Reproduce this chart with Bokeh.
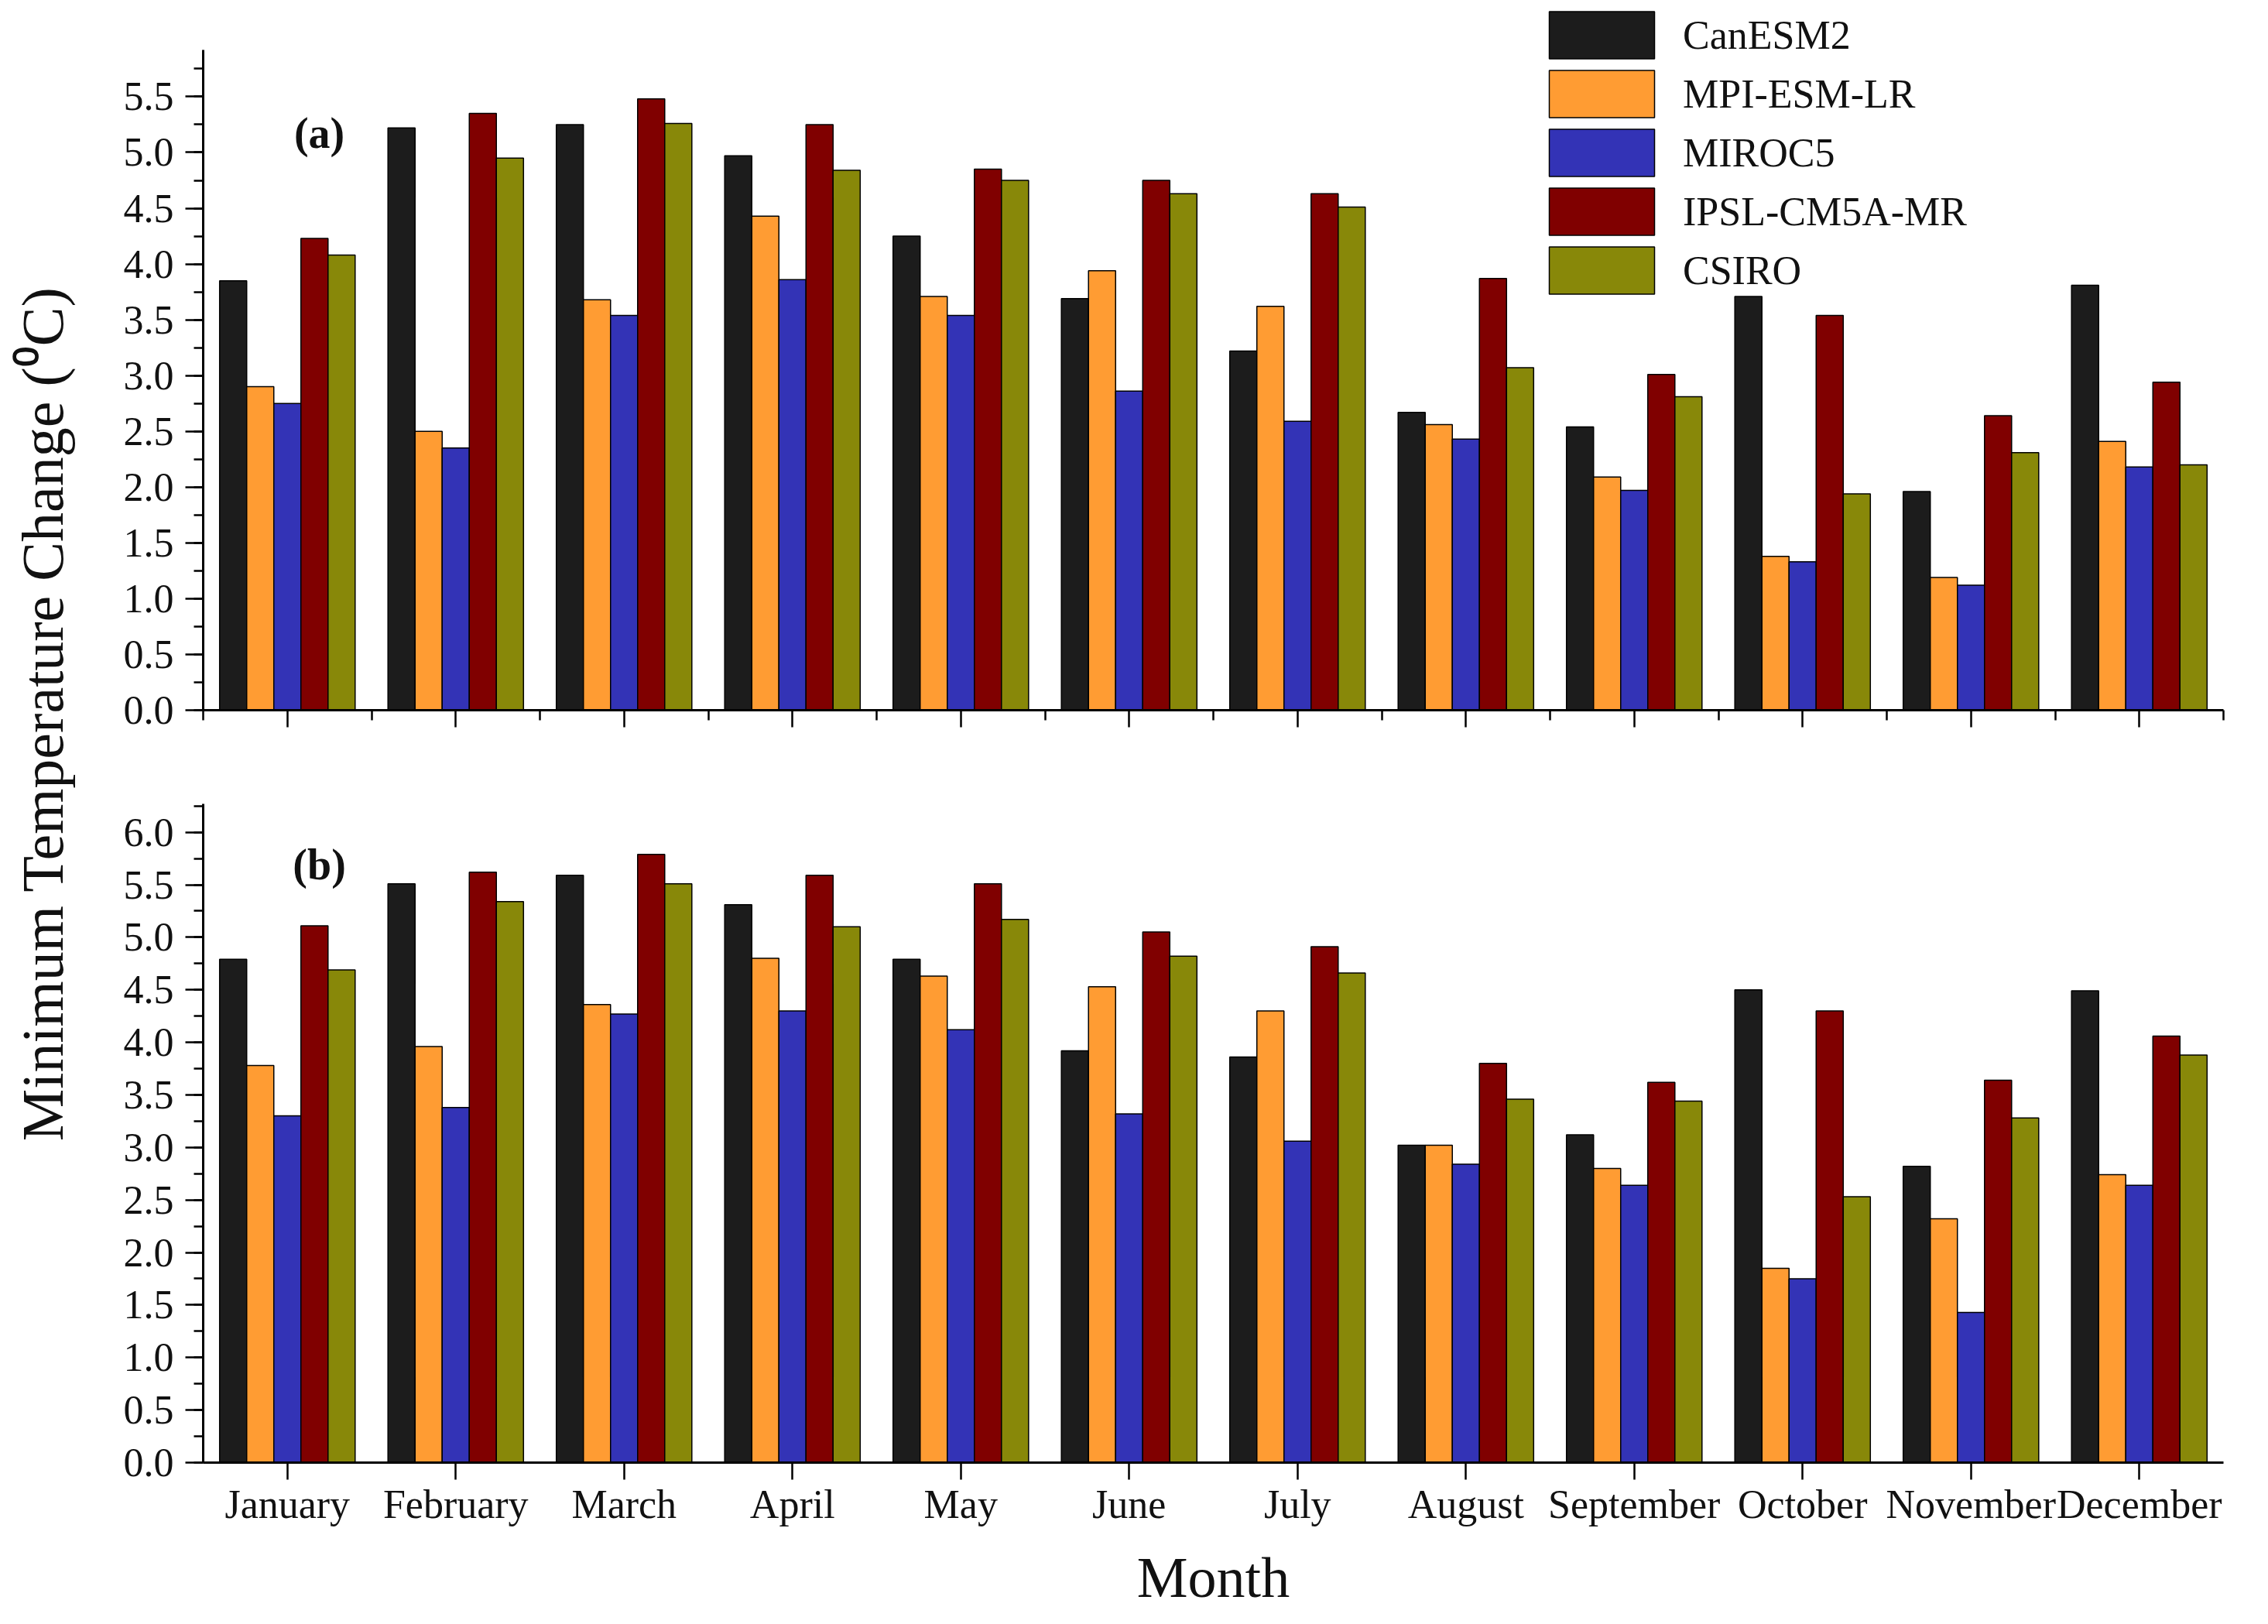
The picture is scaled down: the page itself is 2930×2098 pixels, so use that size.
import numpy as np
from bokeh.plotting import figure
from bokeh.models import (ColumnDataSource, Range1d, FixedTicker, SingleIntervalTicker,
                          PrintfTickFormatter, Legend, LegendItem, Label)
from bokeh.transform import dodge
from bokeh.layouts import row, column
from bokeh.embed import file_html
from bokeh.resources import INLINE

months = ["January", "February", "March", "April", "May", "June", "July",
          "August", "September", "October", "November", "December"]
models = ["CanESM2", "MPI-ESM-LR", "MIROC5", "IPSL-CM5A-MR", "CSIRO"]
colors = ["#1c1c1c", "#ff9c33", "#3333b6", "#800000", "#888809"]

# Panel (a)
a_canesm2 = [3.85, 5.22, 5.25, 4.97, 4.25, 3.69, 3.22, 2.67, 2.54, 3.71, 1.96, 3.81]
a_mpi     = [2.90, 2.50, 3.68, 4.43, 3.71, 3.94, 3.62, 2.56, 2.09, 1.38, 1.19, 2.41]
a_miroc5  = [2.75, 2.35, 3.54, 3.86, 3.54, 2.86, 2.59, 2.43, 1.97, 1.33, 1.12, 2.18]
a_ipsl    = [4.23, 5.35, 5.48, 5.25, 4.85, 4.75, 4.63, 3.87, 3.01, 3.54, 2.64, 2.94]
a_csiro   = [4.08, 4.95, 5.26, 4.84, 4.75, 4.63, 4.51, 3.07, 2.81, 1.94, 2.31, 2.20]

# Panel (b)
b_canesm2 = [4.79, 5.51, 5.59, 5.31, 4.79, 3.92, 3.86, 3.02, 3.12, 4.50, 2.82, 4.49]
b_mpi     = [3.78, 3.96, 4.36, 4.80, 4.63, 4.53, 4.30, 3.02, 2.80, 1.85, 2.32, 2.74]
b_miroc5  = [3.30, 3.38, 4.27, 4.30, 4.12, 3.32, 3.06, 2.84, 2.64, 1.75, 1.43, 2.64]
b_ipsl    = [5.11, 5.62, 5.79, 5.59, 5.51, 5.05, 4.91, 3.80, 3.62, 4.30, 3.64, 4.06]
b_csiro   = [4.69, 5.34, 5.51, 5.10, 5.17, 4.82, 4.66, 3.46, 3.44, 2.53, 3.28, 3.88]

FONT = "Liberation Serif"
x_idx = list(range(1, len(months) + 1))
offsets = [-0.322, -0.161, 0.0, 0.161, 0.322]
bar_w = 0.161


def make_panel(series, ymax, axis_top, tag, tag_y, height, b_top, b_bottom, show_labels, minor_x):
    src = ColumnDataSource(dict(x=x_idx, **{f"s{i}": s for i, s in enumerate(series)}))
    p = figure(width=2791, height=height, x_range=Range1d(0.5, 12.5), y_range=Range1d(0, ymax),
               output_backend="svg", toolbar_location=None,
               min_border_left=132, min_border_right=49, min_border_top=b_top,
               min_border_bottom=b_bottom)
    p.grid.visible = False
    p.outline_line_color = None
    p.background_fill_color = "white"
    p.border_fill_color = "white"
    renderers = []
    for i in range(len(series)):
        r = p.vbar(x=dodge("x", offsets[i], range=p.x_range), top=f"s{i}", width=bar_w,
                   bottom=0, source=src, fill_color=colors[i], line_color="#000000",
                   line_width=1.5)
        renderers.append(r)

    # x axis
    xa = p.xaxis[0]
    xa.ticker = FixedTicker(ticks=x_idx, minor_ticks=[i + 0.5 for i in range(0, 13)] if minor_x else [])
    xa.axis_line_width = 3
    xa.major_tick_line_width = 2.5
    xa.minor_tick_line_width = 2.5
    xa.major_tick_out = 22
    xa.major_tick_in = 0
    xa.minor_tick_out = 13
    xa.minor_tick_in = 0
    if show_labels:
        xa.major_label_overrides = {i: m for i, m in zip(x_idx, months)}
        xa.major_label_text_font = FONT
        xa.major_label_text_font_size = "52px"
        xa.major_label_text_color = "#111111"
        xa.major_label_standoff = 3
        xa.axis_label = "Month"
        xa.axis_label_text_font = FONT
        xa.axis_label_text_font_size = "74px"
        xa.axis_label_text_font_style = "normal"
        xa.axis_label_text_color = "#111111"
        xa.axis_label_standoff = 22
    else:
        xa.major_label_overrides = {i: "" for i in x_idx}
        xa.major_label_text_font_size = "1px"

    # y axis
    ya = p.yaxis[0]
    ya.ticker = SingleIntervalTicker(interval=0.5, num_minor_ticks=2)
    ya.formatter = PrintfTickFormatter(format="%.1f")
    ya.bounds = (0, axis_top)
    ya.axis_line_width = 3
    ya.major_tick_line_width = 2.5
    ya.minor_tick_line_width = 2.5
    ya.major_tick_out = 23
    ya.major_tick_in = 0
    ya.minor_tick_out = 12
    ya.minor_tick_in = 0
    ya.major_label_text_font = FONT
    ya.major_label_text_font_size = "52px"
    ya.major_label_text_color = "#111111"
    ya.major_label_standoff = 15

    p.add_layout(Label(x=1.19, y=tag_y, text=tag, text_font=FONT, text_font_size="56px",
                       text_font_style="bold", text_align="center", text_baseline="middle",
                       text_color="#111111"))
    return p, renderers


top, rs = make_panel([a_canesm2, a_mpi, a_miroc5, a_ipsl, a_csiro], 6.315, 5.92, "(a)", 5.17,
                     992, 7, 75, False, True)
bottom, _ = make_panel([b_canesm2, b_mpi, b_miroc5, b_ipsl, b_csiro], 6.27, 6.27, "(b)", 5.69,
                       1093, 46, 196, True, False)

legend = Legend(items=[LegendItem(label=m, renderers=[r]) for m, r in zip(models, rs)],
                location=(1722, 530), padding=0, margin=0, spacing=0,
                glyph_width=170, glyph_height=76, label_standoff=20,
                label_text_font=FONT, label_text_font_size="52px", label_text_color="#111111",
                label_height=62,
                border_line_color=None, background_fill_alpha=0)
top.add_layout(legend)

left = figure(width=130, height=2085, x_range=Range1d(0, 1), y_range=Range1d(0, 1),
              output_backend="svg", toolbar_location=None,
              x_axis_location=None, y_axis_location=None,
              min_border_left=0, min_border_right=0, min_border_top=0, min_border_bottom=0)
left.grid.visible = False
left.outline_line_color = None
left.add_layout(Label(x=0.42, y=0.558, text="Minimum Temperature Change (\u2070C)",
                      angle=np.pi / 2, text_font=FONT, text_font_size="76px",
                      text_align="center", text_baseline="middle", text_color="#111111"))

layout = row(left, column(top, bottom))
open("out.html", "w").write(file_html(layout, INLINE))
